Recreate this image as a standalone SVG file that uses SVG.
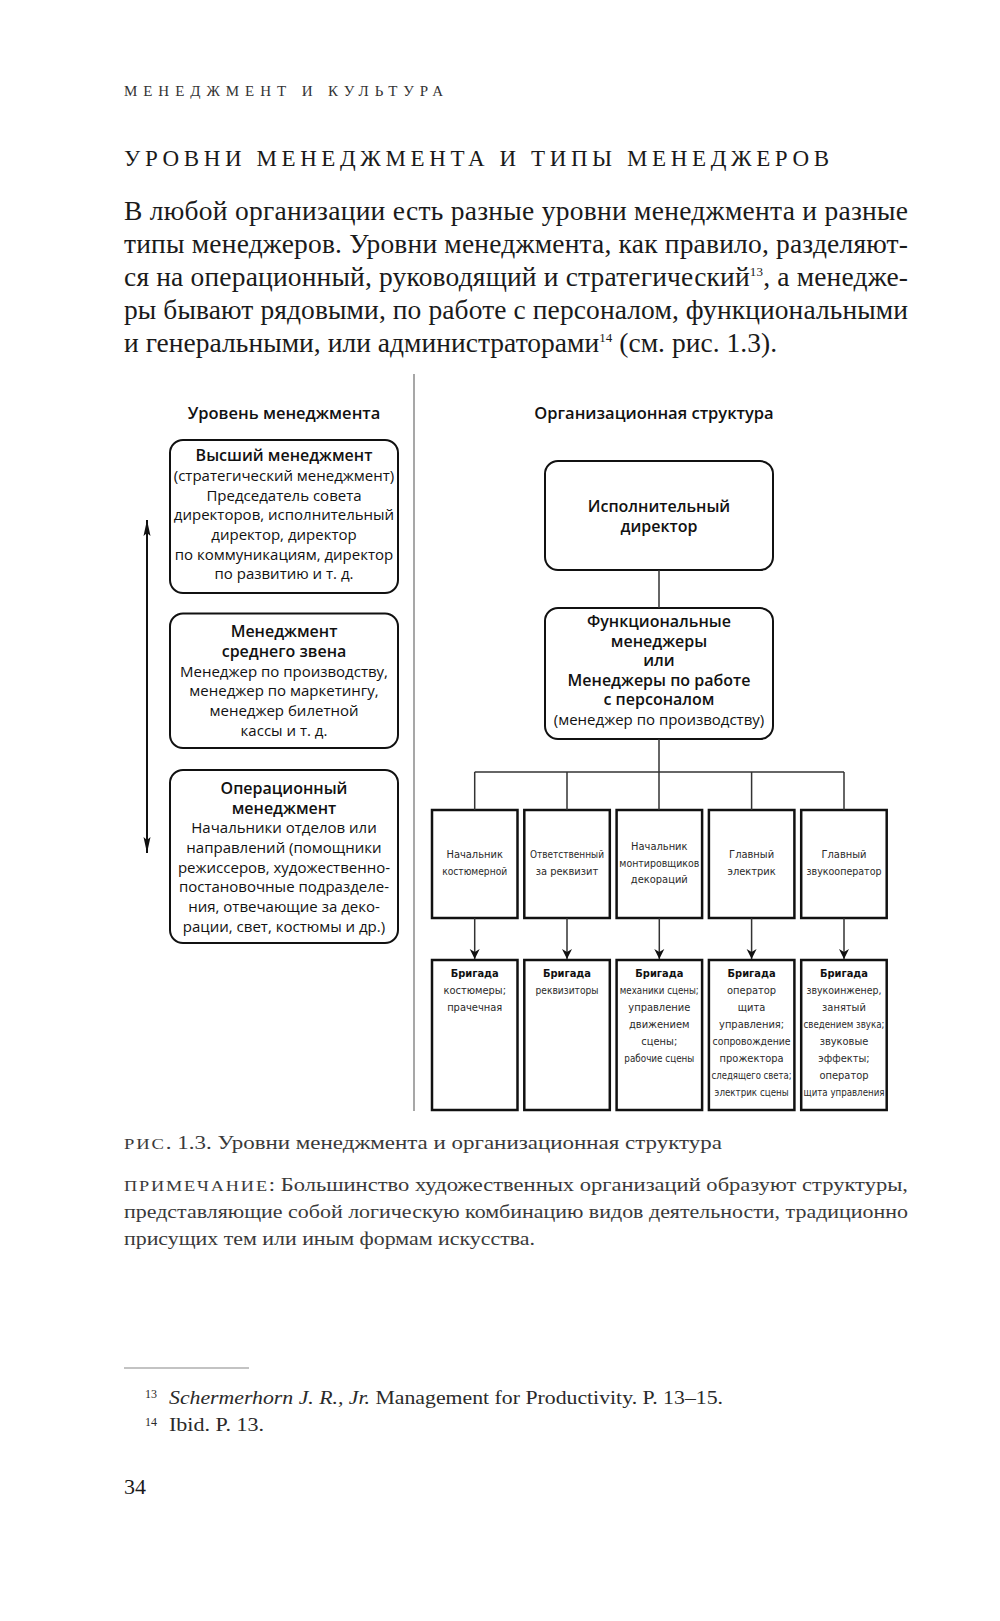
<svg xmlns="http://www.w3.org/2000/svg" width="1000" height="1621" viewBox="0 0 1000 1621">
<style>
.pg{font-family:"Liberation Serif","DejaVu Serif",serif;fill:#1a1a1a}
.hd{font-family:"Liberation Serif",serif;font-size:15px;fill:#333}
.tt{font-family:"Liberation Serif",serif;font-size:23px;fill:#1a1a1a}
.bd{font-family:"Liberation Serif",serif;font-size:27.5px;fill:#1a1a1a}
.cp{font-family:"Liberation Serif",serif;font-size:18.5px;fill:#3a3a3a}
.fn{font-family:"Liberation Serif",serif;font-size:19px;fill:#2a2a2a}
.fs{font-family:"Liberation Serif",serif;font-size:12px;fill:#2a2a2a}
.sc{font-size:15px}
.sup{font-size:13px}
.dg{font-family:"Open Sans","Noto Sans",sans-serif;fill:#111;text-anchor:middle}
.h{font-size:16.5px;font-weight:600}
.b{font-size:16px;font-weight:600}
.r{font-size:15px}
.sm{font-family:"Liberation Sans Narrow","DejaVu Sans Condensed","DejaVu Sans",sans-serif;font-size:11px;fill:#2a2a2a;text-anchor:middle}
.smb{font-weight:bold;fill:#111}
.rb{fill:#fff;stroke:#111;stroke-width:2}
.sb{fill:#fff;stroke:#111;stroke-width:2.5}
.cn{fill:none;stroke:#333;stroke-width:1.5}
</style>
<defs>
<marker id="ah" viewBox="0 0 10 12" refX="10" refY="6" markerWidth="10" markerHeight="12" markerUnits="userSpaceOnUse" orient="auto">
<path d="M0,1 L10,6 L0,11 L3,6 Z" fill="#111"/>
</marker>
<marker id="lh" viewBox="0 0 16 8" refX="16" refY="4" markerWidth="16" markerHeight="8" markerUnits="userSpaceOnUse" orient="auto">
<path d="M0,0.5 L16,4 L0,7.5 L3,4 Z" fill="#111"/>
</marker>
<marker id="lt" viewBox="0 0 16 8" refX="0" refY="4" markerWidth="16" markerHeight="8" markerUnits="userSpaceOnUse" orient="auto">
<path d="M16,0.5 L0,4 L16,7.5 L13,4 Z" fill="#111"/>
</marker>
</defs>

<g id="page-text">
<text class="hd" x="124" y="96" textLength="319" lengthAdjust="spacing">МЕНЕДЖМЕНТ И КУЛЬТУРА</text>
<text class="tt" x="124" y="166" textLength="705" lengthAdjust="spacing">УРОВНИ МЕНЕДЖМЕНТА И ТИПЫ МЕНЕДЖЕРОВ</text>
<text class="bd" x="124" y="220" textLength="784" lengthAdjust="spacing">В любой организации есть разные уровни менеджмента и разные</text>
<text class="bd" x="124" y="253" textLength="784" lengthAdjust="spacing">типы менеджеров. Уровни менеджмента, как правило, разделяют-</text>
<text class="bd" x="124" y="286" textLength="784" lengthAdjust="spacing">ся на операционный, руководящий и стратегический<tspan class="sup" dy="-10">13</tspan><tspan dy="10">, а менедже-</tspan></text>
<text class="bd" x="124" y="319" textLength="784" lengthAdjust="spacing">ры бывают рядовыми, по работе с персоналом, функциональными</text>
<text class="bd" x="124" y="352" textLength="653" lengthAdjust="spacing">и генеральными, или администраторами<tspan class="sup" dy="-10">14</tspan><tspan dy="10"> (см. рис. 1.3).</tspan></text>
</g>

<g id="divider">
<line x1="414" y1="374" x2="414" y2="1111" stroke="#8a8a8a" stroke-width="1.5"/>
</g>

<g id="col-headers" class="dg">
<text class="h" x="284" y="419">Уровень менеджмента</text>
<text class="h" x="654" y="419">Организационная структура</text>
</g>

<g id="level-top" class="dg">
<rect class="rb" x="170" y="440" width="228" height="153" rx="13"/>
<text class="b" x="284" y="461">Высший менеджмент</text>
<text class="r" x="284" y="481">(стратегический менеджмент)</text>
<text class="r" x="284" y="500.5">Председатель совета</text>
<text class="r" x="284" y="520">директоров, исполнительный</text>
<text class="r" x="284" y="540">директор, директор</text>
<text class="r" x="284" y="559.5">по коммуникациям, директор</text>
<text class="r" x="284" y="579">по развитию и т. д.</text>
</g>

<g id="level-middle" class="dg">
<rect class="rb" x="170" y="613.5" width="228" height="134.5" rx="13"/>
<text class="b" x="284" y="637">Менеджмент</text>
<text class="b" x="284" y="657">среднего звена</text>
<text class="r" x="284" y="677">Менеджер по производству,</text>
<text class="r" x="284" y="696">менеджер по маркетингу,</text>
<text class="r" x="284" y="716">менеджер билетной</text>
<text class="r" x="284" y="736">кассы и т. д.</text>
</g>

<g id="level-operational" class="dg">
<rect class="rb" x="170" y="770" width="228" height="173" rx="13"/>
<text class="b" x="284" y="794">Операционный</text>
<text class="b" x="284" y="813.5">менеджмент</text>
<text class="r" x="284" y="833">Начальники отделов или</text>
<text class="r" x="284" y="853">направлений (помощники</text>
<text class="r" x="284" y="872.5">режиссеров, художественно-</text>
<text class="r" x="284" y="892">постановочные подразделе-</text>
<text class="r" x="284" y="912">ния, отвечающие за деко-</text>
<text class="r" x="284" y="931.5">рации, свет, костюмы и др.)</text>
</g>

<g id="exec" class="dg">
<rect class="rb" x="545" y="461" width="228" height="109" rx="13"/>
<text class="b" x="659" y="512">Исполнительный</text>
<text class="b" x="659" y="532">директор</text>
</g>

<g id="functional" class="dg">
<rect class="rb" x="545" y="608" width="228" height="131" rx="13"/>
<text class="b" x="659" y="627">Функциональные</text>
<text class="b" x="659" y="646.5">менеджеры</text>
<text class="b" x="659" y="666">или</text>
<text class="b" x="659" y="685.5">Менеджеры по работе</text>
<text class="b" x="659" y="705">с персоналом</text>
<text class="r" x="659" y="724.5">(менеджер по производству)</text>
</g>

<g id="head-1" class="sm">
<rect class="sb" x="432" y="810" width="85.5" height="108"/>
<text x="474.7" y="858">Начальник</text>
<text x="474.7" y="875" textLength="65" lengthAdjust="spacingAndGlyphs">костюмерной</text>
</g>
<g id="head-2" class="sm">
<rect class="sb" x="524.3" y="810" width="85.5" height="108"/>
<text x="567" y="858" textLength="74" lengthAdjust="spacingAndGlyphs">Ответственный</text>
<text x="567" y="875">за реквизит</text>
</g>
<g id="head-3" class="sm">
<rect class="sb" x="616.6" y="810" width="85.5" height="108"/>
<text x="659.3" y="850">Начальник</text>
<text x="659.3" y="866.5" textLength="80" lengthAdjust="spacingAndGlyphs">монтировщиков</text>
<text x="659.3" y="883">декораций</text>
</g>
<g id="head-4" class="sm">
<rect class="sb" x="708.9" y="810" width="85.5" height="108"/>
<text x="751.6" y="858">Главный</text>
<text x="751.6" y="875">электрик</text>
</g>
<g id="head-5" class="sm">
<rect class="sb" x="801.2" y="810" width="85.5" height="108"/>
<text x="844" y="858">Главный</text>
<text x="844" y="875" textLength="75" lengthAdjust="spacingAndGlyphs">звукооператор</text>
</g>

<g id="crew-1" class="sm">
<rect class="sb" x="432" y="960" width="85.5" height="150"/>
<text class="smb" x="474.7" y="977">Бригада</text>
<text x="474.7" y="994">костюмеры;</text>
<text x="474.7" y="1011">прачечная</text>
</g>
<g id="crew-2" class="sm">
<rect class="sb" x="524.3" y="960" width="85.5" height="150"/>
<text class="smb" x="567" y="977">Бригада</text>
<text x="567" y="994" textLength="63" lengthAdjust="spacingAndGlyphs">реквизиторы</text>
</g>
<g id="crew-3" class="sm">
<rect class="sb" x="616.6" y="960" width="85.5" height="150"/>
<text class="smb" x="659.3" y="977">Бригада</text>
<text x="659.3" y="994" textLength="79" lengthAdjust="spacingAndGlyphs">механики сцены;</text>
<text x="659.3" y="1011">управление</text>
<text x="659.3" y="1028">движением</text>
<text x="659.3" y="1045">сцены;</text>
<text x="659.3" y="1062" textLength="70" lengthAdjust="spacingAndGlyphs">рабочие сцены</text>
</g>
<g id="crew-4" class="sm">
<rect class="sb" x="708.9" y="960" width="85.5" height="150"/>
<text class="smb" x="751.6" y="977">Бригада</text>
<text x="751.6" y="994">оператор</text>
<text x="751.6" y="1011">щита</text>
<text x="751.6" y="1028">управления;</text>
<text x="751.6" y="1045" textLength="78" lengthAdjust="spacingAndGlyphs">сопровождение</text>
<text x="751.6" y="1062">прожектора</text>
<text x="751.6" y="1079" textLength="80" lengthAdjust="spacingAndGlyphs">следящего света;</text>
<text x="751.6" y="1096" textLength="74" lengthAdjust="spacingAndGlyphs">электрик сцены</text>
</g>
<g id="crew-5" class="sm">
<rect class="sb" x="801.2" y="960" width="85.5" height="150"/>
<text class="smb" x="844" y="977">Бригада</text>
<text x="844" y="994" textLength="75" lengthAdjust="spacingAndGlyphs">звукоинженер,</text>
<text x="844" y="1011">занятый</text>
<text x="844" y="1028" textLength="81" lengthAdjust="spacingAndGlyphs">сведением звука;</text>
<text x="844" y="1045">звуковые</text>
<text x="844" y="1062">эффекты;</text>
<text x="844" y="1079">оператор</text>
<text x="844" y="1096" textLength="81" lengthAdjust="spacingAndGlyphs">щита управления</text>
</g>

<g id="connectors">
<line x1="147" y1="520" x2="147" y2="853" stroke="#111" stroke-width="2" marker-start="url(#lt)" marker-end="url(#lh)"/>
<line class="cn" x1="659" y1="570" x2="659" y2="608"/>
<line class="cn" x1="659" y1="739" x2="659" y2="810"/>
<line class="cn" x1="474.7" y1="772" x2="844" y2="772" stroke="#777"/>
<line class="cn" x1="474.7" y1="772" x2="474.7" y2="810"/>
<line class="cn" x1="567" y1="772" x2="567" y2="810"/>
<line class="cn" x1="751.6" y1="772" x2="751.6" y2="810"/>
<line class="cn" x1="844" y1="772" x2="844" y2="810"/>
<line class="cn" x1="474.7" y1="918" x2="474.7" y2="959" marker-end="url(#ah)"/>
<line class="cn" x1="567" y1="918" x2="567" y2="959" marker-end="url(#ah)"/>
<line class="cn" x1="659.3" y1="918" x2="659.3" y2="959" marker-end="url(#ah)"/>
<line class="cn" x1="751.6" y1="918" x2="751.6" y2="959" marker-end="url(#ah)"/>
<line class="cn" x1="844" y1="918" x2="844" y2="959" marker-end="url(#ah)"/>
</g>

<g id="caption">
<text class="cp" x="124" y="1149" textLength="598" lengthAdjust="spacingAndGlyphs"><tspan class="sc" letter-spacing="1.5">РИС</tspan>. 1.3. Уровни менеджмента и организационная структура</text>
<text class="cp" x="124" y="1191" textLength="784" lengthAdjust="spacingAndGlyphs"><tspan class="sc" letter-spacing="1.5">ПРИМЕЧАНИЕ</tspan>: Большинство художественных организаций образуют структуры,</text>
<text class="cp" x="124" y="1218" textLength="784" lengthAdjust="spacingAndGlyphs">представляющие собой логическую комбинацию видов деятельности, традиционно</text>
<text class="cp" x="124" y="1245" textLength="411" lengthAdjust="spacingAndGlyphs">присущих тем или иным формам искусства.</text>
</g>

<g id="footnotes">
<line x1="124" y1="1368" x2="249" y2="1368" stroke="#888" stroke-width="1.2"/>
<text class="fs" x="145" y="1398">13</text>
<text class="fn" x="169" y="1404" textLength="554" lengthAdjust="spacingAndGlyphs"><tspan font-style="italic">Schermerhorn J. R., Jr.</tspan> Management for Productivity. P. 13–15.</text>
<text class="fs" x="145" y="1426">14</text>
<text class="fn" x="169" y="1431" textLength="95" lengthAdjust="spacingAndGlyphs">Ibid. P. 13.</text>
<text class="pg" x="124" y="1494" font-size="22">34</text>
</g>
</svg>
